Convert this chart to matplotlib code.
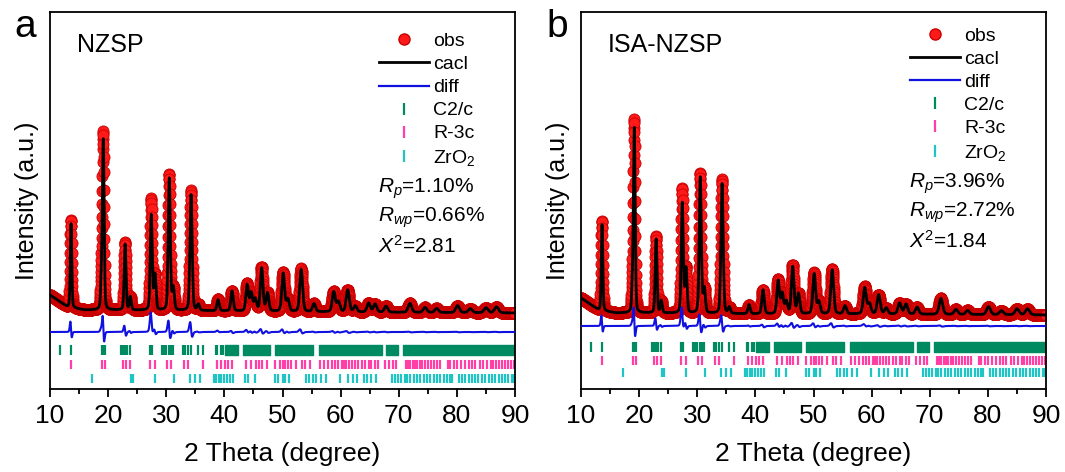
import numpy as np
import matplotlib.pyplot as plt
from matplotlib.lines import Line2D

plt.rcParams['font.family'] = ['Liberation Sans', 'DejaVu Sans']
plt.rcParams['mathtext.fontset'] = 'custom'
plt.rcParams['mathtext.rm'] = 'Liberation Sans'
plt.rcParams['mathtext.it'] = 'Liberation Sans:italic'

# ---- data ----
# peak positions (2 theta) shared by both samples
peak_pos = [13.6, 18.85, 19.15, 22.9, 23.8, 27.4, 28.05, 30.5, 31.2, 34.25, 35.5,
            38.9, 41.3, 43.9, 44.6, 45.3, 46.4, 47.4, 50.1, 50.9, 53.2, 55.4,
            58.8, 59.6, 61.2, 62.5, 64.8, 65.9, 67.8, 71.9, 74.5, 76.5, 80.1,
            82.3, 85.0, 86.8]

# observed peak heights (a.u.)
obs_h_a = [88, 30, 174, 68, 13, 111, 35, 136, 22, 120, 6, 12, 20, 27, 18, 12, 44,
           18, 39, 12, 43, 8, 20, 10, 22, 6, 9, 8, 6, 9, 5, 4, 7, 4, 5, 6]
obs_h_b = [90, 25, 190, 77, 12, 124, 44, 140, 24, 134, 6, 9, 24, 34, 20, 12, 48,
           20, 41, 12, 45, 8, 27, 10, 19, 6, 11, 10, 7, 16, 5, 4, 8, 4, 6, 6]
# calculated peak heights (a.u.)
calc_h_a = [84, 30, 167, 66, 13, 95, 35, 132, 22, 116, 6, 11, 20, 26, 18, 12, 43,
            18, 38, 12, 42, 8, 20, 10, 22, 6, 9, 8, 6, 9, 5, 4, 7, 4, 5, 6]
calc_h_b = [86, 25, 182, 74, 12, 110, 44, 136, 24, 130, 6, 9, 24, 33, 20, 12, 47,
            20, 40, 12, 44, 8, 26, 10, 19, 6, 11, 10, 7, 16, 5, 4, 8, 4, 6, 6]

# background
bg_theta = [10, 11, 13, 16, 20, 40, 60, 90]
bg_a = [94, 90, 82, 79, 79, 78, 77, 76]
bg_b = [91, 87, 79, 76, 76, 75, 75, 74]

# reflection markers
c2c_ticks = [11.7, 13.6, 18.9, 19.2, 19.5, 22.3, 22.6, 22.9, 23.3, 23.8, 27.2,
             27.5, 29.3, 29.6, 30.0, 30.4, 30.8, 31.2, 32.9, 33.2, 33.8, 34.3,
             35.5, 36.3, 38.5, 38.8, 39.5, 39.8]
c2c_bands = [(40.1, 42.3), (43.2, 47.9), (48.7, 55.3), (56.3, 67.1),
             (67.8, 69.9), (70.7, 90.0)]
r3c_ticks = [13.6, 18.9, 19.5, 22.6, 23.1, 23.8, 27.2, 28.1, 30.1, 30.9, 33.0,
             33.7, 36.3, 38.7, 39.5, 40.1, 40.6, 41.3, 43.8, 44.6, 45.4, 46.0,
             46.5, 47.3, 48.7, 49.6, 50.0, 50.5, 51.0, 51.5, 52.3, 53.3, 53.9,
             54.7, 56.5, 57.2, 57.8, 58.5, 59.0, 59.6, 60.2, 60.6, 61.0, 61.5,
             62.0, 62.5, 63.0, 63.6, 64.2, 64.8, 65.3, 65.9, 66.5, 67.7, 68.3,
             69.0, 69.6, 71.2, 71.6, 72.0, 72.4, 72.8, 73.2, 73.6, 74.0, 74.5,
             75.0, 75.5, 76.1, 76.6, 77.1, 78.4, 78.9, 79.5, 80.1, 80.7, 81.4,
             82.0, 82.6, 83.2, 83.9, 84.5, 85.1, 85.8, 86.3, 86.8, 87.3, 87.8,
             88.3, 88.8, 89.3, 89.8]
zro2_ticks = [17.3, 23.9, 24.3, 28.1, 31.4, 34.1, 35.0, 35.8, 38.2, 38.6, 39.0,
              39.5, 40.0, 40.5, 41.0, 41.5, 43.5, 44.1, 45.3, 48.7, 49.2, 50.0,
              50.5, 51.2, 54.1, 54.6, 55.3, 55.8, 56.6, 57.5, 59.9, 61.3, 62.1,
              62.8, 64.0, 64.6, 65.3, 66.0, 68.8, 69.3, 69.8, 70.4, 71.0, 71.5,
              72.0, 72.6, 73.2, 73.7, 74.3, 74.9, 75.4, 76.0, 76.6, 77.1, 77.7,
              78.3, 78.8, 79.2, 80.3, 80.8, 81.4, 82.0, 82.6, 83.1, 83.7, 84.3,
              84.8, 85.5, 86.0, 86.6, 87.2, 87.7, 88.3, 88.8, 89.4, 89.9]

rp_text_a = ['1.10%', '0.66%', '2.81']
rp_text_b = ['3.96%', '2.72%', '1.84']

green = '#008a62'
pink = '#ff3fa6'
cyan = '#1fc4c4'


def profile(theta, heights, bg, shift=0.0):
    y = np.interp(theta, bg_theta, bg).astype(float)
    for p, h in zip(peak_pos, heights):
        w = 0.28 + 0.007 * (p - 10)
        g = np.exp(-4 * np.log(2) * ((theta - p - shift) / w) ** 2)
        l = 1 / (1 + 4 * ((theta - p - shift) / w) ** 2)
        y += h * (0.75 * g + 0.25 * l)
    return y


def draw_panel(ax, obs_h, calc_h, bg, diff_off, rows, label, stats,
               leg_y, stat_y):
    theta = np.arange(10, 90.0001, 0.025)
    obs = profile(theta, obs_h, bg)
    calc = profile(theta, calc_h, bg, shift=0.02)
    diff = obs - calc + diff_off

    ax.plot(theta, obs, 'o', ms=8, mfc='#ff1a1a', mec='#c80000', mew=0.6,
            zorder=2)
    ax.plot(theta, calc, color='black', lw=2, zorder=3)
    ax.plot(theta, diff, color='#1010e0', lw=1.5, zorder=3)

    (g0, g1), (p0, p1), (c0, c1) = rows
    ax.vlines(c2c_ticks, g0, g1, color=green, lw=1.6)
    ax.broken_barh([(s, e - s) for s, e in c2c_bands], (g0, g1 - g0),
                   color=green)
    ax.vlines(r3c_ticks, p0, p1, color=pink, lw=1.6)
    ax.vlines(zro2_ticks, c0, c1, color=cyan, lw=1.6)

    ax.set_xlim(10, 90)
    ax.set_ylim(0, 377)
    ax.set_yticks([])
    ax.set_xticks(range(10, 91, 10))
    ax.set_xticks(range(15, 90, 10), minor=True)
    ax.tick_params(axis='x', which='major', direction='out', length=6,
                   width=1.3, labelsize=19, pad=5)
    ax.tick_params(axis='x', which='minor', direction='out', length=3.5,
                   width=1.3)
    for s in ax.spines.values():
        s.set_linewidth(1.3)
    ax.set_xlabel('2 Theta (degree)', fontsize=19, labelpad=10)
    ax.set_ylabel('Intensity (a.u.)', fontsize=18, labelpad=8)

    ax.text(0.058, 0.895, label, transform=ax.transAxes, fontsize=18,
            va='baseline', ha='left')

    handles = [
        Line2D([], [], ls='none', marker='o', ms=8, mfc='#ff1a1a', mec='#c80000'),
        Line2D([], [], color='black', lw=2),
        Line2D([], [], color='#1010e0', lw=1.6),
        Line2D([], [], ls='none', marker='|', ms=8, mew=1.6, color=green),
        Line2D([], [], ls='none', marker='|', ms=8, mew=1.6, color=pink),
        Line2D([], [], ls='none', marker='|', ms=8, mew=1.6, color=cyan),
    ]
    labels = ['obs', 'cacl', 'diff', 'C2/c', 'R-3c', 'ZrO$_2$']
    ax.legend(handles, labels, loc='upper left', bbox_to_anchor=(0.69, leg_y),
              frameon=False, fontsize=14, handlelength=2.6, handletextpad=0.2,
              labelspacing=0.28, borderaxespad=0)

    names = [r'$R_p$', r'$R_{wp}$', r'$X^2$']
    for y, n, v in zip(stat_y, names, stats):
        ax.text(0.705, y, n + '=' + v, transform=ax.transAxes, fontsize=15,
                va='center', ha='left')


fig = plt.figure(figsize=(10.65, 4.72), dpi=100)
ax_a = fig.add_axes([50 / 1065, 83 / 472, 465 / 1065, 377 / 472])
ax_b = fig.add_axes([581 / 1065, 83 / 472, 465 / 1065, 377 / 472])

draw_panel(ax_a, obs_h_a, calc_h_a, bg_a, 57,
           [(34, 44), (20, 29), (6, 15)], 'NZSP', rp_text_a,
           0.966, [0.531, 0.455, 0.380])
draw_panel(ax_b, obs_h_b, calc_h_b, bg_b, 63,
           [(37, 47), (24, 33), (12, 21)], 'ISA-NZSP', rp_text_b,
           0.98, [0.545, 0.467, 0.393])

fig.text(14 / 1065, 1 - 37 / 472, 'a', fontsize=28, va='baseline')
fig.text(546 / 1065, 1 - 37 / 472, 'b', fontsize=28, va='baseline')

fig.savefig('out.png', dpi=100)
